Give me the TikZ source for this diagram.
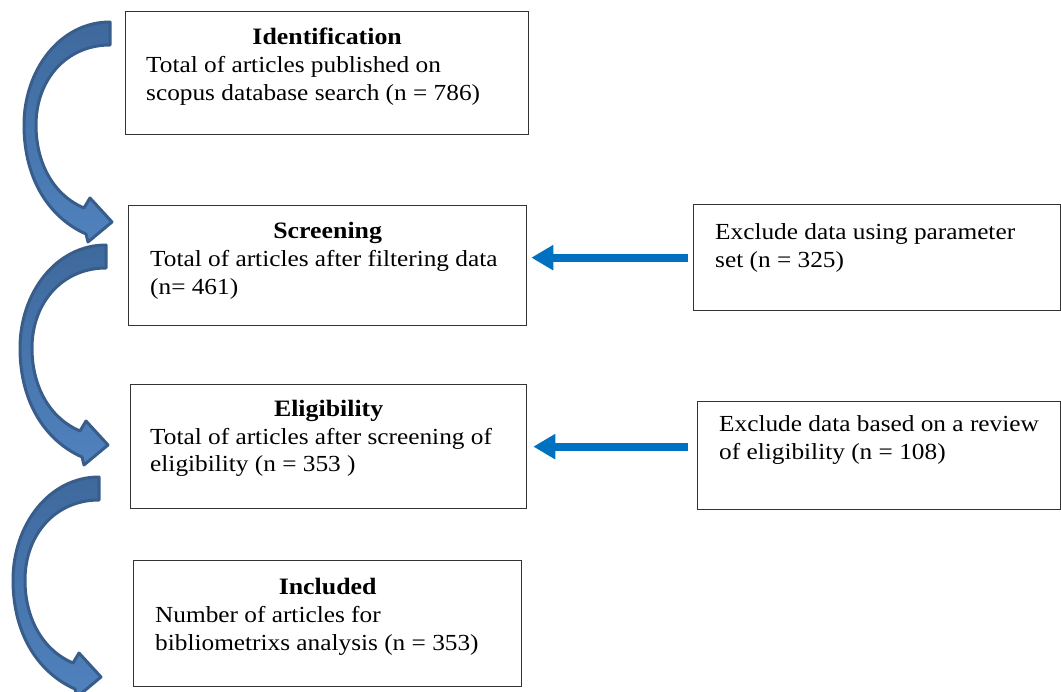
\documentclass[tikz,border=0pt]{standalone}
\usepackage{fontspec}
\setmainfont{Liberation Serif}[FakeStretch=1.1]
\usetikzlibrary{arrows.meta}
\definecolor{arrblue}{HTML}{0070C0}
\definecolor{cdark}{HTML}{3E699D}
\definecolor{clight}{HTML}{5082BE}
\definecolor{cborder}{HTML}{385D8A}
\begin{document}
\begin{tikzpicture}[x=1pt,y=-1pt,
  box/.style={draw=black!80, line width=1.3pt, anchor=north west, inner sep=0pt},
  txt/.style={anchor=base west, inner sep=0pt, font=\fontsize{23}{28}\selectfont},
  ttl/.style={anchor=base, inner sep=0pt, font=\fontsize{23.5}{28}\selectfont\bfseries},
  bluearr/.style={draw=arrblue, line width=8pt, -{Triangle[width=24pt,length=22pt]}},
  curved/.pic={
    \path[draw=cborder, line width=3pt, top color=cdark, bottom color=clight, line join=round]
      (0,0) .. controls (-50,0) and (-86,48) .. (-86,103)
      .. controls (-86,158) and (-60,196) .. (-24,212)
      -- (-22,220) -- (2,200) -- (-20,176) -- (-26,186)
      .. controls (-55,174) and (-74,143) .. (-74,103)
      .. controls (-74,58) and (-44,23) .. (0,23) -- cycle;
  }
]
\useasboundingbox (0,0) rectangle (1061,692);

% main boxes
\node[box, minimum width=403pt, minimum height=123pt] (b1) at (125,11) {};
\node[box, minimum width=398pt, minimum height=120pt] (b2) at (128,205) {};
\node[box, minimum width=396pt, minimum height=124pt] (b3) at (130,384) {};
\node[box, minimum width=388pt, minimum height=126pt] (b4) at (133,560) {};
% side boxes
\node[box, minimum width=367pt, minimum height=106pt] (r1) at (693,204) {};
\node[box, minimum width=363pt, minimum height=108pt] (r2) at (697,401) {};

% texts
\node[ttl] (t1) at (b1.center |- 0,45) {Identification};
\node[txt] (t1a) at (146,73) {Total of articles published on};
\node[txt] (t1b) at (146,101) {scopus database search (n = 786)};

\node[ttl] (t2) at (b2.center |- 0,239) {Screening};
\node[txt] (t2a) at (150,267) {Total of articles after filtering data};
\node[txt] (t2b) at (150,295) {(n= 461)};

\node[ttl] (t3) at (b3.center |- 0,417) {Eligibility};
\node[txt] (t3a) at (150,445) {Total of articles after screening of};
\node[txt] (t3b) at (150,472) {eligibility (n = 353 )};

\node[ttl] (t4) at (b4.center |- 0,594) {Included};
\node[txt] (t4a) at (155,622) {Number of articles for};
\node[txt] (t4b) at (155,650) {bibliometrixs analysis (n = 353)};

\node[txt] (s1a) at (715,240) {Exclude data using parameter};
\node[txt] (s1b) at (715,268) {set (n = 325)};

\node[txt] (s2a) at (719,432) {Exclude data based on a review};
\node[txt] (s2b) at (719,460) {of eligibility (n = 108)};

% blue arrows
\draw[bluearr, shorten <=5pt, shorten >=4pt] (r1.west) -- (b2.east |- r1.west);
\draw[bluearr, shorten <=9pt, shorten >=6pt] (r2.west |- b3.east) -- (b3.east);

% curved arrows
\pic (c1) at (110,22) {curved};
\pic (c2) at (106,245) {curved};
\pic (c3) at (99,477) {curved};
\end{tikzpicture}
\end{document}
